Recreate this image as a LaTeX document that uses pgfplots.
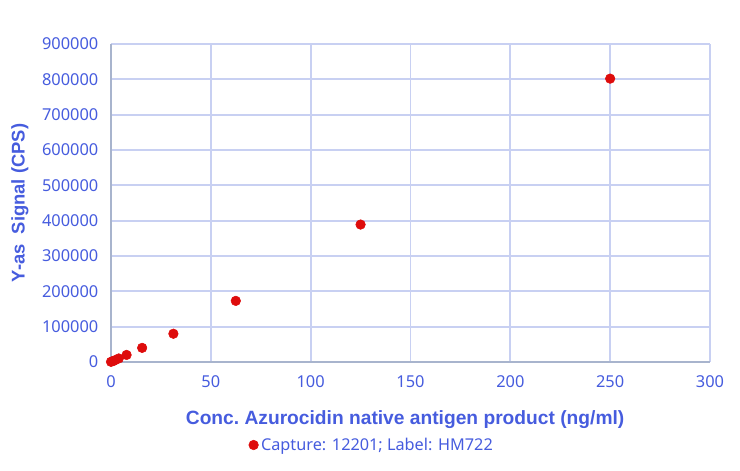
\documentclass[border=0pt]{standalone}
\usepackage{pgfplots}
\pgfplotsset{compat=1.18}
\usepackage{fontspec}
\setmainfont{Noto Sans}
\newfontfamily\lblfont{Liberation Sans}
\definecolor{txtblue}{RGB}{70,92,222}
\definecolor{gridc}{RGB}{200,208,242}
\definecolor{axc}{RGB}{168,180,205}
\definecolor{dotred}{RGB}{222,12,12}
\begin{document}
\begin{tikzpicture}
\useasboundingbox (-83.25pt,-81.75pt) rectangle (471.75pt,271.5pt);
\begin{axis}[
    at={(0,0)}, anchor=south west,
    scale only axis,
    width=449.25pt, height=238.5pt,
    xmin=0, xmax=300, ymin=0, ymax=900000,
    xtick={0,50,100,150,200,250,300},
    xticklabels={0,50,100,150,200,250,300},
    ytick={0,100000,200000,300000,400000,500000,600000,700000,800000,900000},
    yticklabels={0,100000,200000,300000,400000,500000,600000,700000,800000,900000},
    scaled y ticks=false,
    axis x line*=bottom, axis y line*=left,
    axis line style={axc, line width=1.8pt, -},
    grid=major,
    major grid style={gridc, line width=1.4pt},
    major tick length=0pt,
    ticklabel style={font=\fontsize{12.3}{14}\selectfont, text=txtblue},
    xticklabel style={yshift=-7pt},
    yticklabel style={xshift=-6pt},
    xlabel={Conc.\ Azurocidin native antigen product (ng/ml)},
    ylabel={Y-as\ \ Signal (CPS)},
    xlabel style={font=\lblfont\bfseries\fontsize{14.4}{16}\selectfont, text=txtblue,
        anchor=center, at={(axis description cs:0.491,-0.182)}},
    ylabel style={font=\lblfont\bfseries\fontsize{13.8}{16}\selectfont, text=txtblue,
        anchor=center, at={(axis description cs:-0.152,0.5)}},
    legend style={draw=none, fill=none, at={(axis description cs:0.436,-0.261)}, anchor=center,
        font=\fontsize{12.2}{14}\selectfont, text=txtblue},
    legend cell align=left,
    clip=false,
]
\addplot[only marks, mark=*, mark size=3.6pt, color=dotred, fill=dotred, draw=dotred]
coordinates {
    (0,500) (0.98,2500) (1.95,5000) (3.9,10000) (7.8,20000)
    (15.6,40000) (31.25,80000) (62.5,173000) (125,389000) (250,802000)
};
\legend{Capture: 12201; Label: HM722}
\end{axis}
\end{tikzpicture}
\end{document}
